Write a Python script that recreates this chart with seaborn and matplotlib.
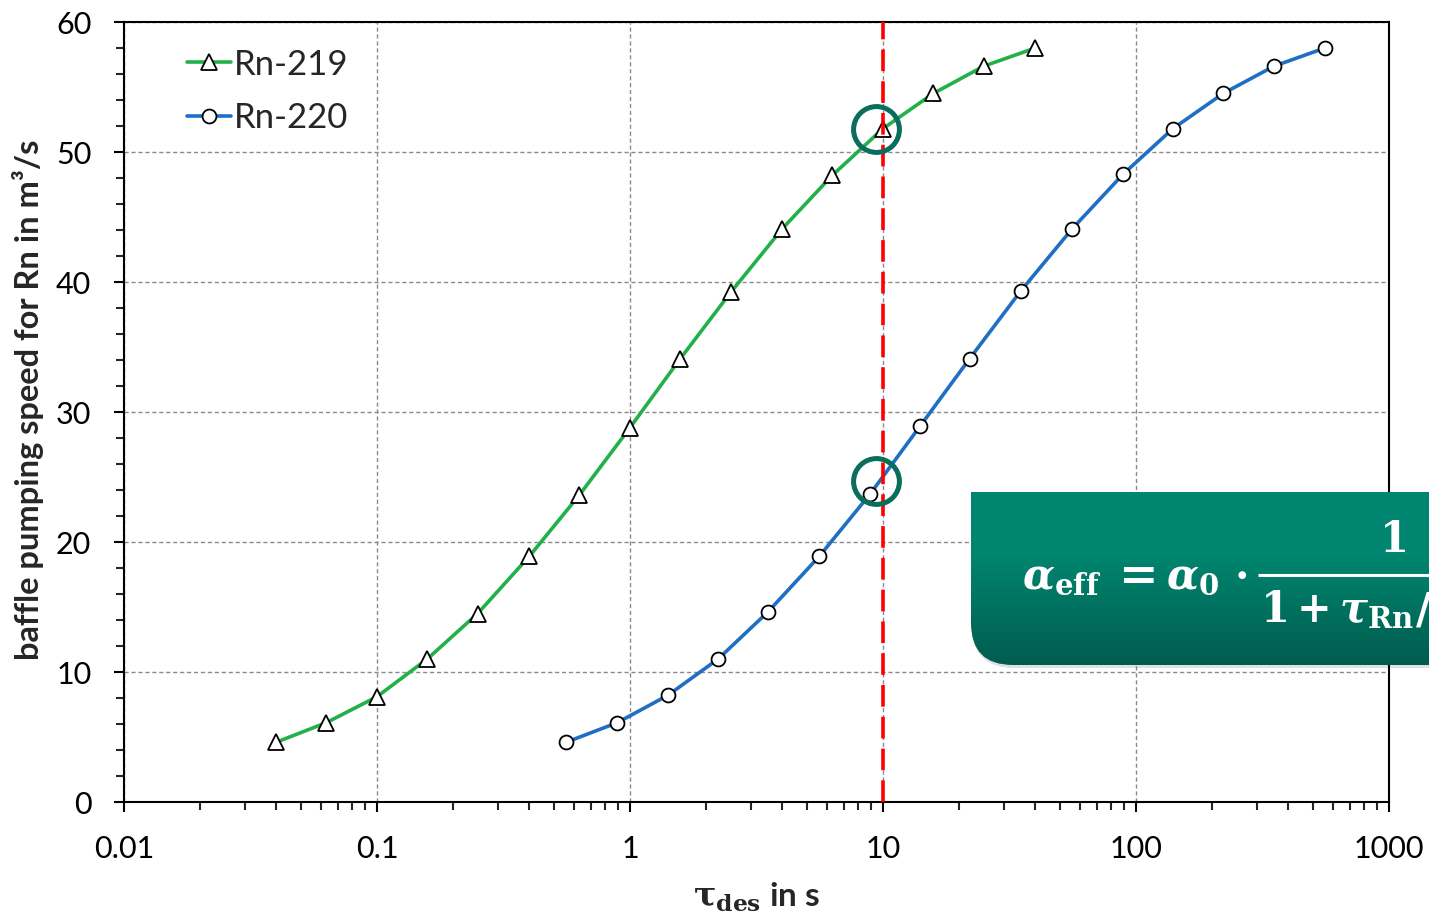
import numpy as np
import pandas as pd
import matplotlib
matplotlib.use('Agg')
import matplotlib.pyplot as plt
import matplotlib.ticker as mticker
from matplotlib.path import Path
from matplotlib.patches import PathPatch
import seaborn as sns

# ---------------- data ----------------
tau_rn219 = [0.04, 0.063, 0.1, 0.158, 0.25, 0.4, 0.63, 1.0, 1.58, 2.5, 4.0, 6.3, 10.0, 15.8, 25.0, 40.0]
speed_rn219 = [4.6, 6.1, 8.1, 11.0, 14.5, 18.9, 23.6, 28.8, 34.1, 39.2, 44.1, 48.2, 51.8, 54.5, 56.6, 58.0]
tau_rn220 = [0.56, 0.89, 1.41, 2.23, 3.5, 5.6, 8.9, 14.0, 22.0, 35.0, 56.0, 89.0, 140.0, 221.0, 351.0, 558.0]
speed_rn220 = [4.6, 6.1, 8.2, 11.0, 14.6, 18.9, 23.7, 28.9, 34.1, 39.3, 44.1, 48.3, 51.8, 54.5, 56.6, 58.0]
series_labels = ['Rn-219', 'Rn-220']
marked_tau = [9.4, 9.4]
marked_speed = [51.8, 24.7]
ref_tau = 10.0
x_ticks = [0.01, 0.1, 1, 10, 100, 1000]
x_tick_labels = ['0.01', '0.1', '1', '10', '100', '1000']
y_ticks = [0, 10, 20, 30, 40, 50, 60]
y_tick_labels = ['0', '10', '20', '30', '40', '50', '60']
x_label = r'$\mathrm{\tau_{des}}$ in s'
y_label = 'baffle pumping speed for Rn in m³/s'
formula_lhs = r'$\alpha_{\mathrm{eff}}$'
formula_eq = r'$=$'
formula_a0 = r'$\alpha_{0}$'
formula_dot = r'$\cdot$'
formula_num = r'$1$'
formula_den_one = r'$1$'
formula_den_plus = r'$+$'
formula_den_tau = r'$\tau_{\mathrm{Rn}}$'
formula_den_slash = r'$/$'

# ---------------- style ----------------
sns.set_style('ticks')
plt.rcParams['font.family'] = ['Lato', 'DejaVu Sans']
plt.rcParams['mathtext.fontset'] = 'custom'
plt.rcParams['mathtext.rm'] = 'DejaVu Serif:bold'
plt.rcParams['mathtext.it'] = 'DejaVu Serif:italic:bold'
plt.rcParams['mathtext.bf'] = 'DejaVu Serif:bold'

GREEN = '#22B04A'
BLUE = '#1F6FC3'

fig = plt.figure(figsize=(14.29, 9.21), dpi=100)
ax = fig.add_axes([124 / 1429, 1 - 802 / 921, (1389 - 124) / 1429, (802 - 22) / 921])

df219 = pd.DataFrame({'tau': tau_rn219, 'speed': speed_rn219})
df220 = pd.DataFrame({'tau': tau_rn220, 'speed': speed_rn220})

sns.lineplot(data=df219, x='tau', y='speed', ax=ax, color=GREEN, lw=2.6, sort=False,
             marker='^', markersize=11, markerfacecolor='white', markeredgecolor='black',
             markeredgewidth=1.3, label=series_labels[0], zorder=4)
sns.lineplot(data=df220, x='tau', y='speed', ax=ax, color=BLUE, lw=2.6, sort=False,
             marker='o', markersize=10, markerfacecolor='white', markeredgecolor='black',
             markeredgewidth=1.3, label=series_labels[1], zorder=4)

ax.set_xscale('log')
ax.set_xlim(x_ticks[0], x_ticks[-1])
ax.set_ylim(y_ticks[0], y_ticks[-1])

ax.xaxis.set_major_locator(mticker.FixedLocator(x_ticks))
ax.xaxis.set_major_formatter(mticker.FixedFormatter(x_tick_labels))
ax.xaxis.set_minor_locator(mticker.LogLocator(base=10, subs=np.arange(2, 10)))
ax.xaxis.set_minor_formatter(mticker.NullFormatter())
ax.yaxis.set_major_locator(mticker.FixedLocator(y_ticks))
ax.yaxis.set_major_formatter(mticker.FixedFormatter(y_tick_labels))
ax.yaxis.set_minor_locator(mticker.MultipleLocator(2))

ax.tick_params(which='major', direction='out', length=7.5, width=1.5, labelsize=22, colors='black')
ax.tick_params(which='minor', direction='out', length=6, width=1.5)
ax.tick_params(axis='y', which='major', pad=16)
ax.tick_params(axis='x', which='major', pad=16)

for s in ax.spines.values():
    s.set_linewidth(1.5)
    s.set_color('black')

ax.grid(which='major', color='#8a8a8a', linestyle=(0, (3, 2)), linewidth=1.0)
ax.set_axisbelow(True)

ax.axvline(ref_tau, color='#FF0000', lw=2.6, linestyle=(0, (6, 2.8)), zorder=5)
ax.plot(marked_tau, marked_speed, ls='none', marker='o', ms=33, mfc='none',
        mec='#0A6E5C', mew=3.6, zorder=6)

ax.set_xlabel(x_label, fontsize=24, fontweight='bold', labelpad=13)
ax.set_ylabel(y_label, fontsize=23.5, fontweight='bold')
ax.yaxis.set_label_coords(-0.063, 0.515)

leg = ax.legend(loc='upper left', bbox_to_anchor=(0.05, 0.966), frameon=False,
                fontsize=25, handlelength=1.25, handletextpad=0.1, labelspacing=0.62,
                borderaxespad=0, borderpad=0)

# ---------------- formula box (overlay in pixel coordinates) ----------------
ov = fig.add_axes([0, 0, 1, 1], zorder=10)
ov.set_xlim(0, 1429)
ov.set_ylim(921, 0)
ov.axis('off')

x0, x1, y0, y1, r = 971, 1445, 492, 665, 42
verts = [(x0, y0), (x1, y0), (x1, y1), (x0 + r, y1), (x0, y1), (x0, y1 - r), (x0, y0)]
codes = [Path.MOVETO, Path.LINETO, Path.LINETO, Path.LINETO, Path.CURVE3, Path.CURVE3, Path.CLOSEPOLY]
shadow_verts = [(vx + 1, vy + 3) for vx, vy in verts]
ov.add_patch(PathPatch(Path(shadow_verts, codes), facecolor='#000000', alpha=0.12, edgecolor='none'))
box = PathPatch(Path(verts, codes), facecolor='none', edgecolor='none')
ov.add_patch(box)
top = np.array([0, 134, 112]) / 255
bot = np.array([0, 92, 78]) / 255
t = np.linspace(0, 1, 200)
w = np.clip((t - 0.35) / 0.65, 0, 1)[:, None]
grad = (top * (1 - w) + bot * w)[:, None, :]
im = ov.imshow(grad, extent=(x0, x1, y1, y0), aspect='auto', interpolation='bilinear', zorder=1)
im.set_clip_path(box)

fs = 30
tk = dict(color='white', fontsize=fs, va='baseline', zorder=3)
ov.text(1022, 588, formula_lhs, ha='left', **tk)
ov.text(1132, 588, formula_eq, ha='center', fontsize=fs + 4, color='white', va='baseline', zorder=3)
ov.text(1166, 588, formula_a0, ha='left', **tk)
ov.text(1240, 588, formula_dot, ha='center', **tk)
ov.plot([1258, 1429], [575, 575], color='white', lw=2.2, solid_capstyle='butt', zorder=3)
ov.text(1392, 552, formula_num, ha='center', **tk)
ov.text(1260, 622, formula_den_one, ha='left', **tk)
ov.text(1312, 622, formula_den_plus, ha='center', **tk)
ov.text(1339, 622, formula_den_tau, ha='left', **tk)
ov.text(1415, 622, formula_den_slash, ha='left', clip_on=True, **tk)

fig.savefig('out.png', dpi=100)
